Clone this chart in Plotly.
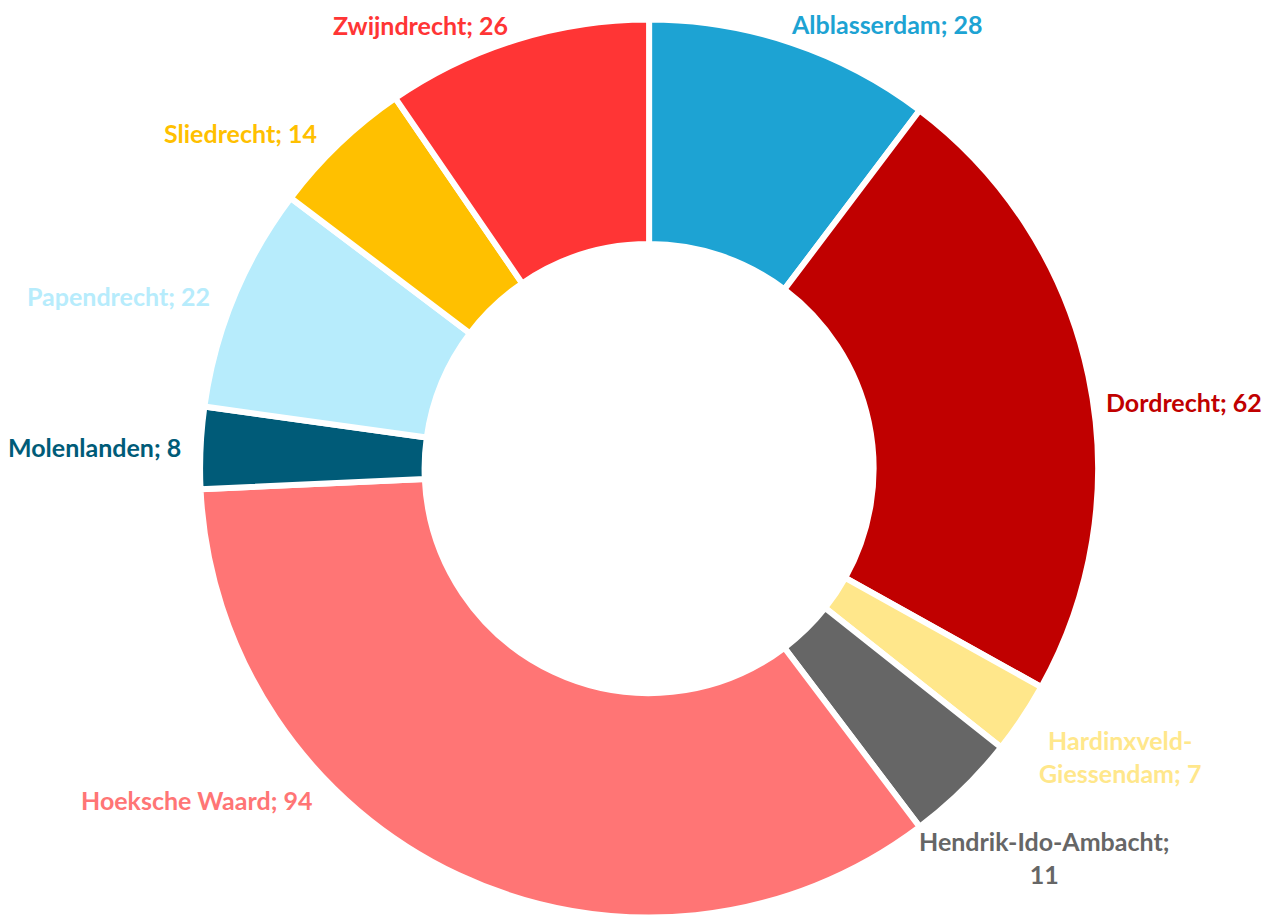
import plotly.graph_objects as go

gemeenten = [
    "Alblasserdam",
    "Dordrecht",
    "Hardinxveld-Giessendam",
    "Hendrik-Ido-Ambacht",
    "Hoeksche Waard",
    "Molenlanden",
    "Papendrecht",
    "Sliedrecht",
    "Zwijndrecht",
]
aantallen = [28, 62, 7, 11, 94, 8, 22, 14, 26]
kleuren = [
    "#1DA3D3",
    "#C00000",
    "#FFE78B",
    "#666666",
    "#FF7575",
    "#005B78",
    "#B7ECFC",
    "#FFC000",
    "#FF3535",
]

# label text as in the reference (some wrapped onto two lines)
label_tekst = [
    "Alblasserdam; 28",
    "Dordrecht; 62",
    "Hardinxveld-<br>Giessendam; 7",
    "Hendrik-Ido-Ambacht;<br>11",
    "Hoeksche Waard; 94",
    "Molenlanden; 8",
    "Papendrecht; 22",
    "Sliedrecht; 14",
    "Zwijndrecht; 26",
]
# label centres in pixels (x, y from top) – Excel-style placement
label_pos = [
    (879, 16),
    (1176, 394),
    (1112, 748),
    (1036, 849),
    (188, 792),
    (86, 439),
    (110, 288),
    (233, 125),
    (412, 17),
]

W, H = 1272, 923

fig = go.Figure(
    go.Pie(
        labels=gemeenten,
        values=aantallen,
        textinfo="none",
        marker=dict(colors=kleuren, line=dict(color="white", width=6)),
        hole=0.5,
        sort=False,
        direction="clockwise",
        rotation=0,
        showlegend=False,
        hoverinfo="label+value",
        domain=dict(x=[0.151, 0.857], y=[0.0135, 0.9885]),
    )
)

for txt, (px, py), kleur in zip(label_tekst, label_pos, kleuren):
    fig.add_annotation(
        x=px / W,
        y=1 - py / H,
        xref="paper",
        yref="paper",
        text=txt,
        showarrow=False,
        xanchor="center",
        yanchor="middle",
        align="center",
        borderpad=0,
        font=dict(family="Lato", size=25, color=kleur, weight="bold"),
    )

fig.update_layout(
    width=W,
    height=H,
    margin=dict(l=0, r=0, t=0, b=0),
    paper_bgcolor="white",
    plot_bgcolor="white",
    font=dict(family="Lato", size=25),
)

fig.write_html("out.html")
